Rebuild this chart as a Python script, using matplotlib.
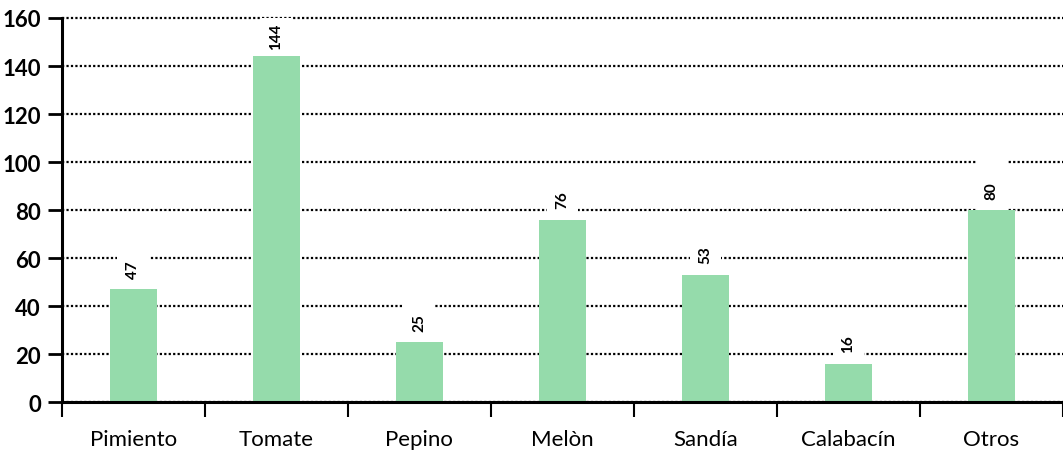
import matplotlib.pyplot as plt
import numpy as np

# data
cultivos = ["Pimiento", "Tomate", "Pepino", "Melòn", "Sandía", "Calabacín", "Otros"]
valores = [47, 144, 25, 76, 53, 16, 80]
y_ticks = [0, 20, 40, 60, 80, 100, 120, 140, 160]

verde = "#95dbab"

plt.rcParams['font.family'] = ['Lato', 'DejaVu Sans']

fig = plt.figure(figsize=(10.63, 4.52), dpi=100)
ax = fig.add_axes([0.058, 0.108, 0.942, 0.85])

x = np.arange(len(cultivos))

# dotted grid, behind everything
ax.set_yticks(y_ticks)
ax.yaxis.grid(True, linestyle=(0, (1, 1)), color="black", linewidth=1.6, zorder=0)
ax.set_axisbelow(True)

# white strip above each bar so the labels break the grid lines
ax.bar(x, [22] * len(x), bottom=valores, width=0.22, color="white", zorder=1.5)
ax.bar(x, valores, width=0.33, color=verde, zorder=2)

for xi, v in zip(x, valores):
    ax.text(xi, v + 8.5, str(v), rotation=90, ha="center", va="center",
            fontsize=11, fontweight="bold", zorder=3)

ax.set_xlim(-0.5, 6.5)
ax.set_ylim(0, 160)

# ticks at the category boundaries, labels in the middle
ax.set_xticks(np.arange(-0.5, len(cultivos), 1.0))
ax.set_xticklabels([])
ax.set_xticks(x, minor=True)
ax.set_xticklabels(cultivos, minor=True, fontsize=16)
ax.tick_params(axis="x", which="major", direction="out", length=11, width=1.5)
ax.tick_params(axis="x", which="minor", length=0, pad=19)
ax.tick_params(axis="y", direction="out", length=10, width=2, pad=5, labelsize=16)
for lab in ax.get_yticklabels():
    lab.set_fontweight("bold")

# keep the top grid line at full weight
for gl in ax.get_ygridlines():
    gl.set_clip_on(False)

ax.spines[["top", "right"]].set_visible(False)
ax.spines["left"].set_linewidth(2.2)
ax.spines["bottom"].set_linewidth(2.2)

plt.savefig("out.png", dpi=100)
